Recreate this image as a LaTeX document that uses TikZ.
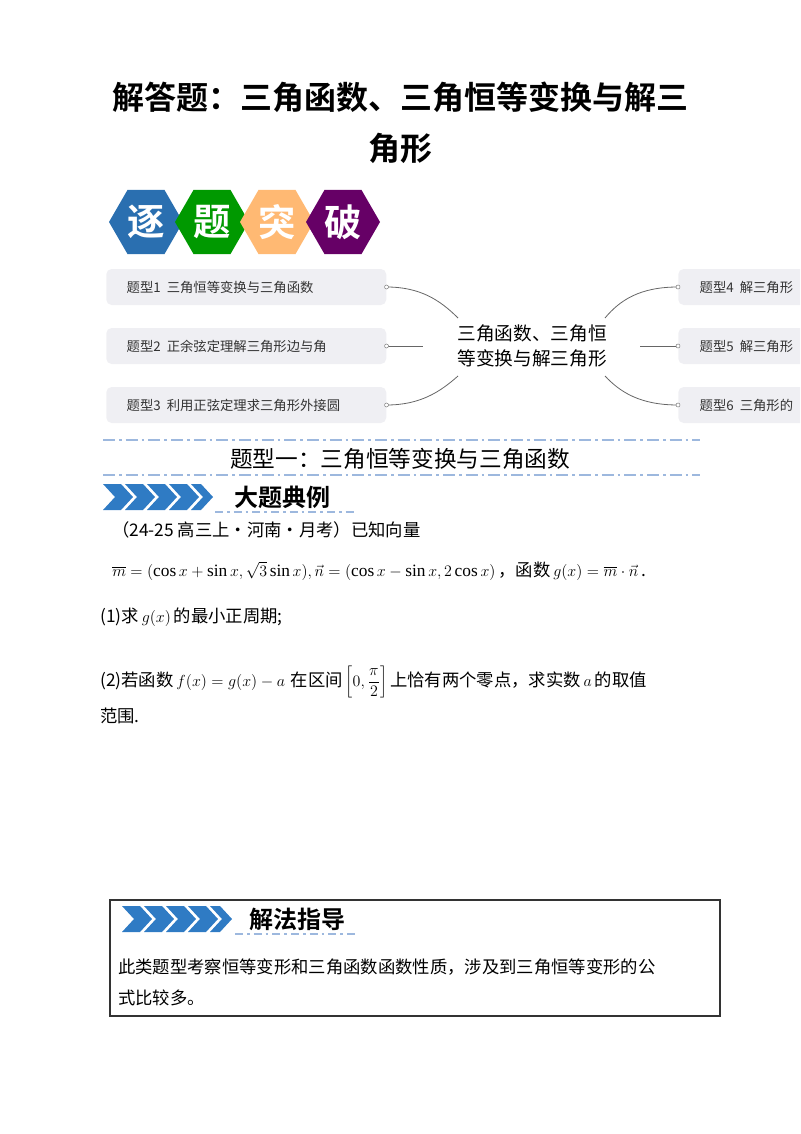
\documentclass[tikz,border=0pt]{standalone}
\usepackage{fontspec}
\setmainfont{Liberation Serif}
\newfontfamily\cjk{Noto Sans CJK SC}
\newfontfamily\cjkb{Noto Sans CJK SC Bold}
\usetikzlibrary{shapes.geometric,calc}
\definecolor{dashblue}{HTML}{9DB8DE}
\definecolor{chev}{HTML}{2F7BC4}
\definecolor{boxgray}{HTML}{EFEFF3}
\tikzset{
 px/.style={x=0.75pt,y=-0.75pt},
 hexa/.style={regular polygon,regular polygon sides=6,minimum size=74*0.75pt,inner sep=0pt,text=white,font=\cjkb\fontsize{28}{28}\selectfont},
 topic/.style={fill=boxgray,rounded corners=4pt,minimum height=27pt,anchor=west,inner sep=0pt},
 ttext/.style={font=\cjk\fontsize{10}{10}\selectfont,anchor=west,text=black!80},
 conn/.style={draw=black!60,line width=0.6pt},
 sep/.style={draw=dashblue,line width=2pt,dash pattern=on 9pt off 3pt on 2pt off 3pt},
 body/.style={font=\cjk\fontsize{13}{15}\selectfont,anchor=west,inner sep=0pt},
}
\newcommand{\chevrons}[2]{%
 \foreach \i in {0,...,3}{\fill[chev] ($(#1,#2)+(\i*22,0)$) -- ++(18,0) -- ++(12,13) -- ++(-12,13) -- ++(-18,0) -- ++(12,-13) -- cycle;}
 \fill[chev] ($(#1,#2)+(88,0)$) -- ++(10,0) -- ++(12,13) -- ++(-12,13) -- ++(-10,0) -- ++(12,-13) -- cycle;}
\begin{document}
\begin{tikzpicture}[px]
\useasboundingbox (0,0) rectangle (800,1134);
\clip (0,0) rectangle (800,1134);
\node[font=\cjkb\fontsize{24}{24}\selectfont] (t1) at (400,97) {解答题：三角函数、三角恒等变换与解三};
\node[font=\cjkb\fontsize{24}{24}\selectfont] (t2) at (400,148) {角形};
\node[hexa,fill=chev!90!black] (h1) at (146,222) {逐};
\node[hexa,fill=green!60!black] (h2) at (212,222) {题};
\node[hexa,fill=orange!55!white] (h3) at (277,222) {突};
\node[hexa,fill=violet!80!black] (h4) at (343,222) {破};
\node[topic,minimum width=210pt] (l1) at (106,287) {};
\node[topic,minimum width=210pt] (l2) at (106,346) {};
\node[topic,minimum width=210pt] (l3) at (106,405) {};
\node[ttext] at (122,287) {题型1\ \ 三角恒等变换与三角函数};
\node[ttext] at (122,346) {题型2\ \ 正余弦定理解三角形边与角};
\node[ttext] at (122,405) {题型3\ \ 利用正弦定理求三角形外接圆};
\node[topic,minimum width=120pt] (r1) at (678,287) {};
\node[topic,minimum width=120pt] (r2) at (678,346) {};
\node[topic,minimum width=120pt] (r3) at (678,405) {};
\node[ttext] at (695,287) {题型4\ \ 解三角形};
\node[ttext] at (695,346) {题型5\ \ 解三角形};
\node[ttext] at (695,405) {题型6\ \ 三角形的};
\node[font=\cjk\fontsize{14}{19}\selectfont,align=center] (c) at (532,346) {三角函数、三角恒\\等变换与解三角形};
\coordinate (cl1) at (458,318); \coordinate (cl2) at (423,346); \coordinate (cl3) at (458,376);
\coordinate (cr1) at (605,318); \coordinate (cr2) at (640,346); \coordinate (cr3) at (605,376);
\draw[conn] (l1.east) .. controls (420,287) and (440,300) .. (cl1);
\draw[conn] (l2.east) -- (cl2);
\draw[conn] (l3.east) .. controls (420,405) and (440,392) .. (cl3);
\draw[conn] (r1.west) .. controls (640,287) and (620,300) .. (cr1);
\draw[conn] (r2.west) -- (cr2);
\draw[conn] (r3.west) .. controls (640,405) and (620,392) .. (cr3);
\foreach \p in {l1.east,l2.east,l3.east,r1.west,r2.west,r3.west} \draw[black!50,fill=white] (\p) circle (1.5pt);
\draw[sep] (103,440) -- (700,440);
\node[font=\cjk\fontsize{17}{17}\selectfont] (h) at (400,459) {题型一：三角恒等变换与三角函数};
\draw[sep] (103,475) -- (700,475);
\chevrons{103}{484}
\node[font=\cjkb\fontsize{18}{18}\selectfont,anchor=west] (dt) at (230,497) {大题典例};
\draw[dashblue,line width=1.5pt,dash pattern=on 6pt off 3pt on 2pt off 3pt] (215,512) -- (357,512);
\node[body] (p0) at (112,530) {（24-25 高三上·河南·月考）已知向量};
\node[body] (p1) at (112,571) {$\overline{m}=(\cos x+\sin x,\sqrt3\sin x),\vec n=(\cos x-\sin x,2\cos x)$\,，函数\,$g(x)=\overline{m}\cdot\vec{n}$\,.};
\node[body] (p2) at (100,617) {(1)求\,$g(x)$\,的最小正周期;};
\node[body] (p3) at (100,682) {(2)若函数\,$f(x)=g(x)-a$\,\,在区间\,$\left[0,{\displaystyle\frac{\pi}{2}}\right]$\,上恰有两个零点，求实数\,$a$\,的取值};
\node[body] (p4) at (100,716) {范围.};
\draw[black!80,line width=0.8pt] (110,900) rectangle (720,1016);
\chevrons{122}{906}
\node[font=\cjkb\fontsize{18}{18}\selectfont,anchor=west] (jf) at (245,919) {解法指导};
\draw[dashblue,line width=1.5pt,dash pattern=on 6pt off 3pt on 2pt off 3pt] (235,934) -- (355,934);
\node[body] (q1) at (118,967) {此类题型考察恒等变形和三角函数函数性质，涉及到三角恒等变形的公};
\node[body] (q2) at (118,998) {式比较多。};
\end{tikzpicture}
\end{document}
